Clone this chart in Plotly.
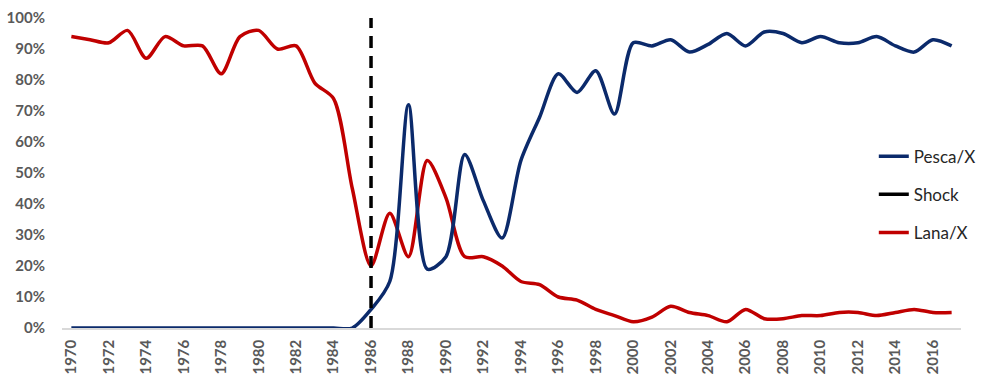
import plotly.graph_objects as go

years = list(range(1970, 2018))

pesca = [0, 0, 0, 0, 0, 0, 0, 0, 0, 0,
         0, 0, 0, 0, 0, 0, 6, 15, 72, 19,
         23, 56, 41, 29, 54, 68, 82, 76, 83, 69,
         92, 91, 93, 89, 91.5, 95, 91, 95.5, 95, 92,
         94, 92, 92, 94, 91, 89, 93, 91]

lana = [94, 93, 92, 96, 87, 94, 91, 91, 82, 94,
        96, 90, 91, 79, 74, 45, 20, 37, 23, 54,
        42, 23, 23, 20, 15, 14, 10, 9, 6, 4,
        2, 3.5, 7, 5, 4, 2, 6, 3, 3, 4,
        4, 5, 5, 4, 5, 6, 5, 5]

shock_year = [1986, 1986]
shock_range = [0, 100]

tick_years = list(range(1970, 2017, 2))
y_ticks = list(range(0, 101, 10))
y_labels = [f"{v}%" for v in y_ticks]

BLUE = "#0b2a6b"
RED = "#c00000"

fig = go.Figure()
fig.add_trace(go.Scatter(x=years, y=lana, mode="lines", name="Lana/X",
                         line=dict(color=RED, width=3.5, shape="spline", smoothing=0.8),
                         legendrank=3, legendgroup="c"))
fig.add_trace(go.Scatter(x=years, y=pesca, mode="lines", name="Pesca/X",
                         line=dict(color=BLUE, width=3.5, shape="spline", smoothing=0.8),
                         legendrank=1, legendgroup="a"))
fig.add_trace(go.Scatter(x=shock_year, y=shock_range, mode="lines", name="Shock",
                         line=dict(color="black", width=3.5, dash="12px,8px"),
                         showlegend=False))
fig.add_trace(go.Scatter(x=[None], y=[None], mode="lines", name="Shock",
                         line=dict(color="black", width=3.5),
                         legendrank=2, legendgroup="b"))

fig.update_layout(
    width=1000, height=388,
    margin=dict(l=62, r=39, t=18, b=60, autoexpand=False),
    paper_bgcolor="white", plot_bgcolor="white",
    font=dict(family="Lato, Open Sans, sans-serif", color="#595959"),
    legend=dict(x=0.903, xanchor="left", y=0.43, yanchor="middle",
                font=dict(size=17, color="#262626", family="Lato, sans-serif"),
                tracegroupgap=13, bgcolor="rgba(0,0,0,0)"),
    showlegend=True,
)
fig.update_xaxes(range=[1969.5, 2017.5], tickmode="array", tickvals=tick_years,
                 ticktext=[str(y) for y in tick_years], tickangle=-90,
                 tickfont=dict(size=15, color="#595959", family="Lato, sans-serif", weight="bold"),
                 showgrid=False, zeroline=False, showline=True, linecolor="#d9d9d9",
                 linewidth=1.5, ticks="", ticklabelstandoff=4, automargin=False)
fig.update_yaxes(range=[0, 100], tickmode="array", tickvals=y_ticks, ticktext=y_labels,
                 tickfont=dict(size=15, color="#595959", family="Lato, sans-serif", weight="bold"),
                 showgrid=False, zeroline=False, showline=False, ticks="",
                 ticklabelstandoff=16, automargin=False)

fig.write_html("out.html", config={"displayModeBar": False},
               post_script="document.body.style.margin='0';")
